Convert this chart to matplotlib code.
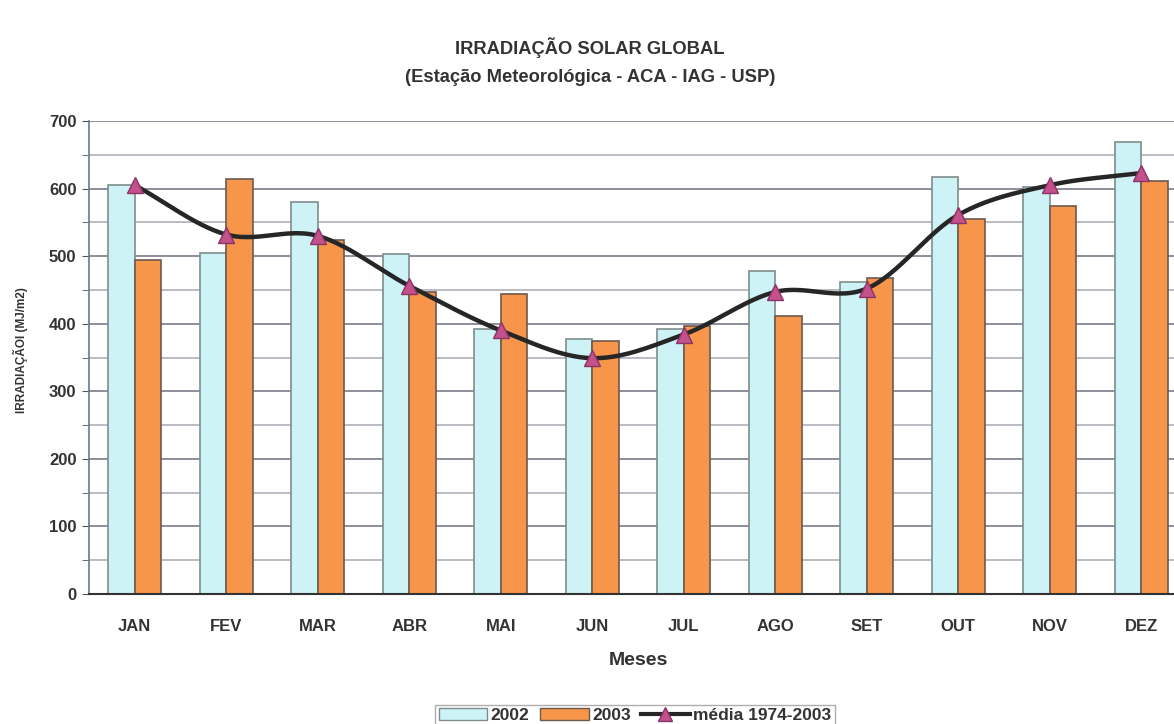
import numpy as np
import matplotlib.pyplot as plt
from matplotlib.patches import Patch
from matplotlib.lines import Line2D

plt.rcParams['font.family'] = ['Liberation Sans', 'DejaVu Sans']

meses = ["JAN", "FEV", "MAR", "ABR", "MAI", "JUN", "JUL", "AGO", "SET", "OUT", "NOV", "DEZ"]
v2002 = [605, 504, 580, 503, 392, 378, 392, 478, 461, 617, 602, 669]
v2003 = [495, 614, 524, 447, 444, 375, 396, 411, 467, 555, 574, 611]
media = [605, 532, 530, 456, 390, 349, 384, 447, 452, 561, 605, 623]


def suave(x, y, n=30):
    # curva suavizada tipo Catmull-Rom, como a linha suavizada do Excel
    x = np.asarray(x, float)
    y = np.asarray(y, float)
    px = np.concatenate([[2 * x[0] - x[1]], x, [2 * x[-1] - x[-2]]])
    py = np.concatenate([[2 * y[0] - y[1]], y, [2 * y[-1] - y[-2]]])
    xs, ys = [], []
    t = np.linspace(0, 1, n)
    for i in range(1, len(px) - 2):
        for p, out in ((px, xs), (py, ys)):
            p0, p1, p2, p3 = p[i - 1], p[i], p[i + 1], p[i + 2]
            out.extend(0.5 * (2 * p1 + (-p0 + p2) * t
                              + (2 * p0 - 5 * p1 + 4 * p2 - p3) * t ** 2
                              + (-p0 + 3 * p1 - 3 * p2 + p3) * t ** 3))
    return xs, ys


fig = plt.figure(figsize=(11.74, 7.24), dpi=100)
ax = fig.add_axes([89 / 1174, 1 - 594 / 724, (1187 - 89) / 1174, (594 - 121) / 724])

x = np.arange(len(meses))
w = 0.29
ax.bar(x - w / 2, v2002, w, color='#cdf3f7', edgecolor='#7f8c8d', linewidth=1.2, zorder=2)
ax.bar(x + w / 2, v2003, w, color='#f7954a', edgecolor='#6b5a50', linewidth=1.2, zorder=2)

sx, sy = suave(x, media)
ax.plot(sx, sy, color='#262626', linewidth=3.2, zorder=3)
ax.plot(x, media, linestyle='none', marker='^', markersize=12, markerfacecolor='#c4508c',
        markeredgecolor='#8a3366', zorder=4)

ax.set_xlim(-0.5, len(meses) - 0.5)
ax.set_ylim(0, 700)
ax.set_yticks(range(0, 701, 100))
ax.set_yticks(range(0, 701, 50), minor=True)
ax.yaxis.grid(True, which='major', color='#7c7c8a', linewidth=1.2, zorder=0)
ax.yaxis.grid(True, which='minor', color='#a8a8b4', linewidth=1.1, zorder=0)
ax.set_axisbelow(True)
ax.set_xticks(x)
ax.set_xticklabels(meses, fontsize=12, fontweight='bold', color='#333333')
ax.tick_params(axis='x', length=0, pad=18)
ax.tick_params(axis='y', which='both', length=5, color='#555555', labelsize=12, labelcolor='#333333', pad=4)
for lab in ax.get_yticklabels():
    lab.set_fontweight('bold')
for s in ['top', 'right']:
    ax.spines[s].set_visible(False)
ax.spines['left'].set_color('#6a7a8a')
ax.spines['left'].set_linewidth(1.2)
ax.spines['bottom'].set_color('#333333')
ax.spines['bottom'].set_linewidth(1.5)

ax.set_xlabel("Meses", fontsize=14, fontweight='bold', color='#333333', labelpad=13)
fig.text(20 / 1174, 1 - 350 / 724, "IRRADIAÇÃOI (MJ/m2)", rotation=90, fontsize=8.5,
         fontweight='bold', color='#333333', ha='center', va='center')

fig.text(590 / 1174, 1 - 48 / 724, "IRRADIAÇÃO SOLAR GLOBAL", fontsize=13.2, fontweight='bold',
         color='#333333', ha='center', va='center')
fig.text(590 / 1174, 1 - 77 / 724, "(Estação Meteorológica - ACA - IAG - USP)", fontsize=13.2,
         fontweight='bold', color='#333333', ha='center', va='center')

handles = [Patch(facecolor='#cdf3f7', edgecolor='#7f8c8d'),
           Patch(facecolor='#f7954a', edgecolor='#6b5a50'),
           Line2D([], [], color='#262626', linewidth=3, marker='^', markersize=10,
                  markerfacecolor='#c4508c', markeredgecolor='#8a3366')]
leg = fig.legend(handles, ["2002", "2003", "média 1974-2003"], loc='upper center',
                 bbox_to_anchor=(635 / 1174, 1 - 696 / 724), ncol=3, frameon=True,
                 fancybox=False, edgecolor='#999999', handlelength=2.8, handletextpad=0.2,
                 columnspacing=0.6, borderpad=0.2,
                 prop={'size': 12.5, 'weight': 'bold'})
for t in leg.get_texts():
    t.set_color('#333333')

fig.savefig("out.png", dpi=100)
